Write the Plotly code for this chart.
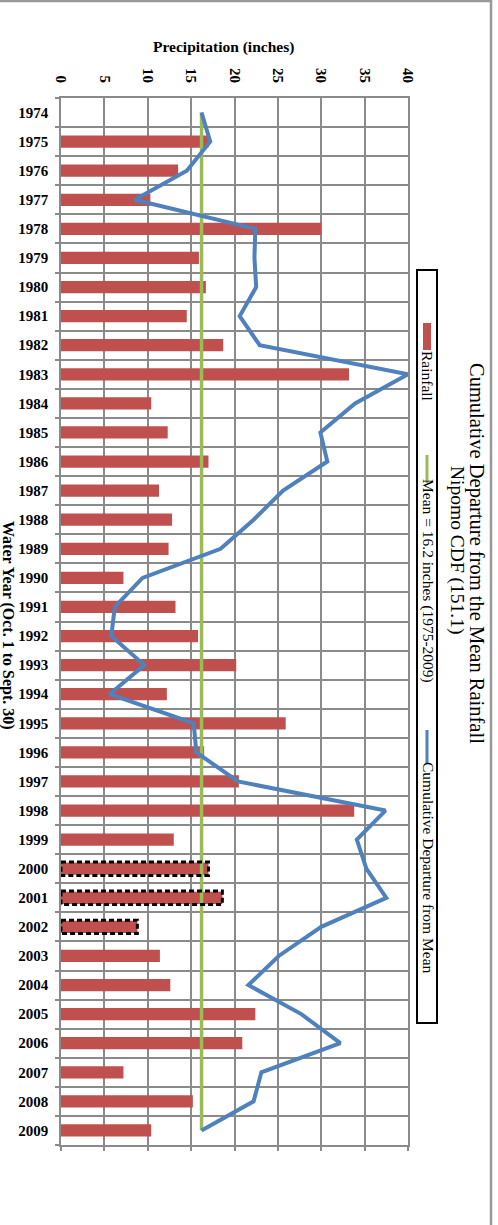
import plotly.graph_objects as go

# ---------------- data ----------------
years = [str(y) for y in range(1974, 2010)]
rain_years = [str(y) for y in range(1975, 2010)]
rainfall = [17.0, 13.5, 10.3, 30.0, 15.9, 16.7, 14.5, 18.7, 33.2, 10.4,
            12.3, 17.0, 11.3, 12.8, 12.4, 7.2, 13.2, 15.8, 20.2, 12.2,
            25.9, 16.5, 20.5, 33.8, 13.0, 17.0, 18.6, 8.8, 11.4, 12.6,
            22.4, 20.9, 7.2, 15.2, 10.4]
cum_departure = [16.2, 17.2, 14.5, 8.5, 22.4, 22.3, 22.5, 20.6, 22.9, 40.0,
                 33.9, 29.9, 30.7, 25.6, 22.2, 18.4, 9.4, 6.2, 5.8, 9.6,
                 5.6, 15.3, 15.6, 20.4, 37.4, 34.1, 35.2, 37.5, 30.0, 25.1,
                 21.6, 27.7, 32.2, 23.1, 22.2, 16.2]
mean_value = 16.2
estimated_years = ["2000", "2001", "2002"]
x_ticks = [0, 5, 10, 15, 20, 25, 30, 35, 40]

# ---------------- layout geometry ----------------
W, H = 498, 1225
L, R, T, B = 61, 408, 98, 1145
def px(p):
    return (p - L) / (R - L)
def py(p):
    return (B - p) / (B - T)

RED, GREEN, BLUE = "#C0504D", "#9BBB59", "#4F81BD"
GRID = "#8a8a8a"
FONT = "Liberation Serif"

fig = go.Figure()
bar_w = 0.42
fig.add_trace(go.Bar(x=rainfall, y=rain_years, orientation="h", width=bar_w,
                     marker=dict(color=RED, line=dict(width=0)), name="Rainfall"))
fig.add_trace(go.Scatter(x=[mean_value, mean_value], y=[years[0], years[-1]], mode="lines",
                         line=dict(color=GREEN, width=3.5), name="Mean"))
fig.add_trace(go.Scatter(x=cum_departure, y=years, mode="lines",
                         line=dict(color=BLUE, width=4), name="Cumulative Departure from Mean"))
# invisible trace for bottom tick axis
fig.add_trace(go.Scatter(x=[0], y=[years[0]], xaxis="x2", mode="markers",
                         marker=dict(opacity=0), hoverinfo="skip"))

shapes = []
# dashed outline for estimated years
for yr in estimated_years:
    idx = years.index(yr)
    val = rainfall[rain_years.index(yr)]
    shapes.append(dict(type="rect", xref="x", yref="y", x0=0, x1=val,
                       y0=idx - bar_w / 2 - 0.02, y1=idx + bar_w / 2 + 0.02,
                       line=dict(color="black", width=3, dash="5px,3px"),
                       fillcolor="rgba(0,0,0,0)"))
# legend box
shapes.append(dict(type="rect", xref="paper", yref="paper", x0=px(417), x1=px(437),
                   y0=py(1023), y1=py(270), line=dict(color="black", width=2),
                   fillcolor="white"))
shapes.append(dict(type="rect", xref="paper", yref="paper", x0=px(423), x1=px(431),
                   y0=py(350), y1=py(323), line=dict(width=0), fillcolor=RED))
shapes.append(dict(type="line", xref="paper", yref="paper", x0=px(427), x1=px(427),
                   y0=py(483), y1=py(455), line=dict(color=GREEN, width=3)))
shapes.append(dict(type="line", xref="paper", yref="paper", x0=px(427), x1=px(427),
                   y0=py(763), y1=py(730), line=dict(color=BLUE, width=3)))
# outer frame
shapes.append(dict(type="line", xref="paper", yref="paper", x0=px(0), x1=px(491),
                   y0=py(1), y1=py(1), line=dict(color="#999999", width=2.5)))
shapes.append(dict(type="line", xref="paper", yref="paper", x0=px(491), x1=px(491),
                   y0=py(0), y1=py(1225), line=dict(color="#999999", width=2.5)))

def ann(text, x, y, size, angle=0):
    return dict(text=text, x=px(x), y=py(y), xref="paper", yref="paper",
                xanchor="center", yanchor="middle", showarrow=False, textangle=angle,
                font=dict(family=FONT, size=size, color="black"))

annotations = [
    ann("<b>Precipitation (inches)</b>", 223, 47, 15.5),
    ann("<b>Water Year (Oct. 1 to Sept. 30)</b>", 8, 625, 16, 90),
    ann("Cumulative Departure from the Mean Rainfall", 477, 553, 20.5, 90),
    ann("Nipomo CDF (151.1)", 457, 550, 19.5, 90),
    ann("Rainfall", 428, 376, 15.5, 90),
    ann("Mean = 16.2 inches (1975-2009)", 428, 581, 15.5, 90),
    ann("Cumulative Departure from Mean", 428, 868, 15.5, 90),
]

fig.update_layout(
    width=W, height=H, margin=dict(l=L, r=W - R, t=T, b=H - B, pad=0),
    paper_bgcolor="white", plot_bgcolor="white", showlegend=False,
    font=dict(family=FONT, color="black"),
    xaxis=dict(side="top", range=[0, 40], tickvals=x_ticks, ticktext=[f"<b>{v}</b>" for v in x_ticks],
               tickangle=90, tickfont=dict(size=15, family=FONT, color="black"),
               showgrid=True, gridcolor=GRID, gridwidth=1.5, zeroline=False,
               showline=True, linecolor=GRID, linewidth=1.5, mirror=True, ticks="",
               ticklabelstandoff=8),
    xaxis2=dict(overlaying="x", side="bottom", range=[0, 40], tickvals=x_ticks,
                showticklabels=False, ticks="outside", ticklen=5, tickcolor=GRID, tickwidth=1.5,
                showgrid=False, zeroline=False, showline=False),
    yaxis=dict(type="category", categoryorder="array", categoryarray=years,
               range=[len(years) - 0.5, -0.5], tickson="boundaries",
               tickvals=years, ticktext=[f"<b>{y}</b>" for y in years],
               tickfont=dict(size=15, family=FONT, color="black"),
               showgrid=True, gridcolor=GRID, gridwidth=1.5,
               showline=True, linecolor=GRID, linewidth=1.5, mirror=True,
               ticks="outside", ticklen=4, tickcolor=GRID, tickwidth=1.5,
               ticklabelstandoff=8),
    shapes=shapes, annotations=annotations,
)

fig.write_html("out.html", config={"displayModeBar": False},
               post_script="document.body.style.margin='0';document.body.style.padding='0';")
